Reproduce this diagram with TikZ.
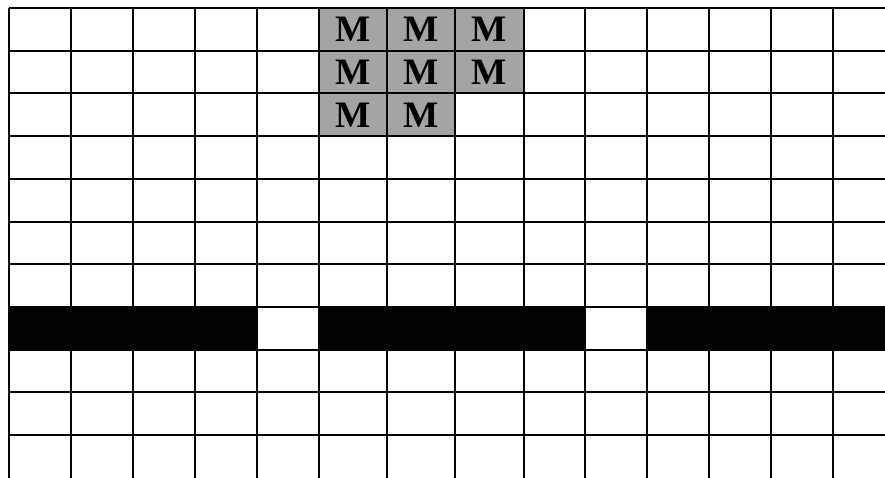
\documentclass[tikz,border=0pt]{standalone}
\usepackage{fontspec}
\setmainfont{Liberation Serif}
\begin{document}
\begin{tikzpicture}[x=0.75pt, y=-0.75pt]
	
	% Kiểu nét cho lưới, ô xám và chữ M
	\tikzset{
		gridLine/.style={line width=1.5pt, black},
		grayCell/.style={fill={rgb,255:red,164;green,164;blue,164}},
		wallBar/.style={fill=black},
		mLabel/.style={font=\fontsize{28}{28}\selectfont\bfseries, inner sep=0pt}
	}
	
	% Khung ảnh
	\useasboundingbox (0,0) rectangle (885,478);
	
	% Các ô xám (M)
	\fill[grayCell] (319,8) rectangle (523.5,93.4);
	\fill[grayCell] (319,93.4) rectangle (455,136.1);
	
	% Các đường dọc
	\foreach \x in {8.5,70.75,133,195,257,319,387,455,523.5,585,647,709,771,833} {
		\draw[gridLine] (\x,8) -- (\x,478);
	}
	% Các đường ngang
	\foreach \y in {8,50.7,93.4,136.1,178.8,221.5,264.2,306.9,349.6,392.3,435} {
		\draw[gridLine] (8.5,\y) -- (885,\y);
	}
	
	% Ba thanh đen (tường), chừa hai ô trống
	\fill[wallBar] (8.5,306.9) rectangle (257,349.6);
	\fill[wallBar] (319,306.9) rectangle (585,349.6);
	\fill[wallBar] (647,306.9) rectangle (885,349.6);
	
	% Chữ M trong các ô xám
	\node[mLabel] (m11) at (353,29.4) {M};
	\node[mLabel] (m12) at (421,29.4) {M};
	\node[mLabel] (m13) at (489.2,29.4) {M};
	\node[mLabel] (m21) at (353,72.1) {M};
	\node[mLabel] (m22) at (421,72.1) {M};
	\node[mLabel] (m23) at (489.2,72.1) {M};
	\node[mLabel] (m31) at (353,114.8) {M};
	\node[mLabel] (m32) at (421,114.8) {M};
	
\end{tikzpicture}
\end{document}
